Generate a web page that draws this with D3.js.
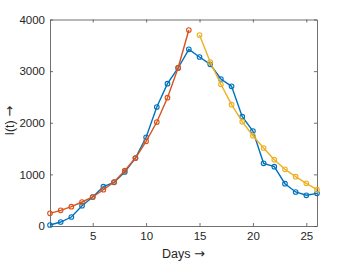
<!DOCTYPE html>
<html>
<head>
<meta charset="utf-8">
<script src="https://cdn.jsdelivr.net/npm/d3@7"></script>
<style>
  body { margin: 0; background: #fff; }
  svg { display: block; font-family: "Liberation Sans", Arial, sans-serif; }
</style>
</head>
<body>
<svg id="chart" width="350" height="263"></svg>
<script>
// observed infections per day
var days = d3.range(1, 27)
var observed = [19, 77, 174, 394, 562, 761, 846, 1046, 1317, 1718, 2305, 2757, 3061, 3422,
                3274, 3132, 2847, 2706, 2118, 1840, 1214, 1149, 819, 659, 595, 633]

// fit on the growth phase (days 1-14)
var growDays = d3.range(1, 15)
var growFit = [246, 304, 374, 465, 562, 703, 852, 1071, 1317, 1641, 2014, 2485, 3067, 3796]

// fit on the decline phase (days 15-26)
var declineDays = d3.range(15, 27)
var declineFit = [3700, 3177, 2745, 2350, 2020, 1749, 1511, 1284, 1098, 955, 827, 703]

var xTicks = [5, 10, 15, 20, 25]
var yTicks = [0, 1000, 2000, 3000, 4000]

var margin = {left: 50, top: 19.5, right: 33, bottom: 37}
var width = 350 - margin.left - margin.right
var height = 263 - margin.top - margin.bottom

var svg = d3.select('#chart')
var g = svg.append('g')
    .attr('transform', 'translate(' + margin.left + ',' + margin.top + ')')

var x = d3.scaleLinear().domain([1, 26]).range([0, width])
var y = d3.scaleLinear().domain([0, 4000]).range([height, 0])

var axisColor = '#4d4d4d'
var fmt = d3.format('d')

// axes, ticks pointing inwards like matlab
g.append('g')
    .attr('transform', 'translate(0,' + height + ')')
    .call(d3.axisBottom(x).tickValues(xTicks).tickFormat(fmt).tickSizeInner(-3).tickSizeOuter(0).tickPadding(6))
g.append('g')
    .call(d3.axisLeft(y).tickValues(yTicks).tickFormat(fmt).tickSizeInner(-3).tickSizeOuter(0).tickPadding(5))

// top and right sides of the box
g.append('g')
    .call(d3.axisTop(x).tickValues(xTicks).tickSizeInner(-3).tickSizeOuter(0).tickFormat(''))
g.append('g')
    .attr('transform', 'translate(' + width + ',0)')
    .call(d3.axisRight(y).tickValues(yTicks).tickSizeInner(-3).tickSizeOuter(0).tickFormat(''))

g.selectAll('.domain, .tick line').attr('stroke', axisColor).attr('stroke-width', 0.8)
g.selectAll('.tick text')
    .attr('fill', '#262626')
    .style('font-size', '11.5px')
    .style('font-family', '"Liberation Sans", Arial, sans-serif')

// series
var series = [
  {xs: days, ys: observed, color: '#0072BD'},
  {xs: growDays, ys: growFit, color: '#D95319'},
  {xs: declineDays, ys: declineFit, color: '#EDB120'}
]

var line = d3.line()
    .x(function(d) { return x(d[0]); })
    .y(function(d) { return y(d[1]); })

series.forEach(function(s) {
  var pts = d3.zip(s.xs, s.ys)
  g.append('path')
      .datum(pts)
      .attr('d', line)
      .attr('fill', 'none')
      .attr('stroke', s.color)
      .attr('stroke-width', 1.4)
  g.selectAll(null)
      .data(pts)
      .join('circle')
      .attr('cx', function(d) { return x(d[0]); })
      .attr('cy', function(d) { return y(d[1]); })
      .attr('r', 2.3)
      .attr('fill', 'none')
      .attr('stroke', s.color)
      .attr('stroke-width', 1.1)
})

// labels
var xl = svg.append('text')
    .attr('x', margin.left + width / 2)
    .attr('y', 258)
    .attr('text-anchor', 'middle')
    .attr('fill', '#262626')
    .style('font-size', '12.5px')
xl.append('tspan').text('Days ')
xl.append('tspan').text('\u2192').style('font-family', '"DejaVu Sans"').style('font-size', '13px')

var yl = svg.append('text')
    .attr('transform', 'translate(14,' + (margin.top + height / 2 - 2) + ') rotate(-90)')
    .attr('text-anchor', 'middle')
    .attr('fill', '#262626')
    .style('font-size', '12.5px')
yl.append('tspan').text('I(t) ')
yl.append('tspan').text('\u2192').style('font-family', '"DejaVu Sans"').style('font-size', '13px')
</script>
</body>
</html>
